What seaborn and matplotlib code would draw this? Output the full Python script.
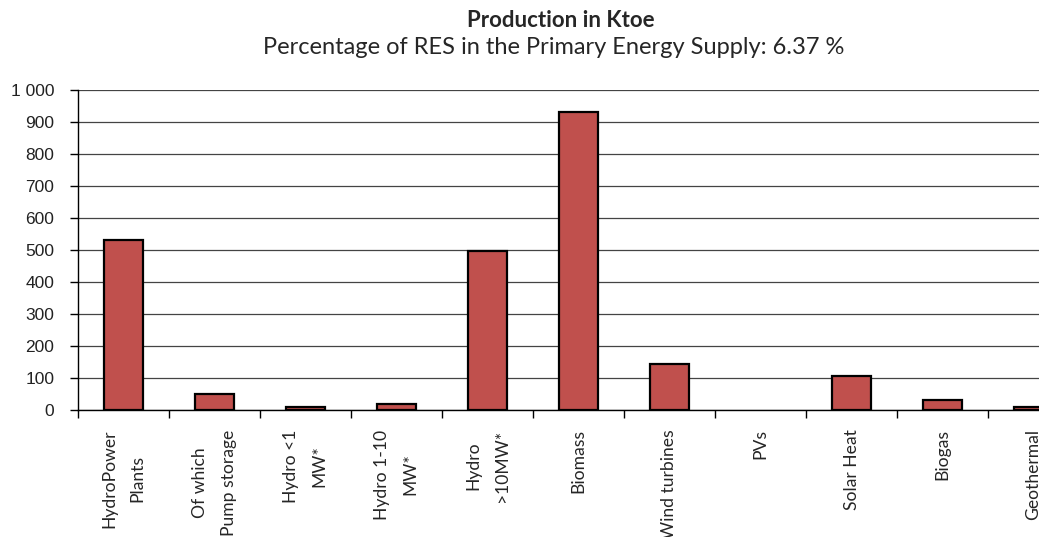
import matplotlib
matplotlib.use("Agg")
import matplotlib.pyplot as plt
import seaborn as sns
import pandas as pd
from matplotlib.ticker import FuncFormatter, FixedLocator

categories = ["HydroPower\nPlants", "Of which\nPump storage", "Hydro <1\nMW*", "Hydro 1-10\nMW*",
              "Hydro\n>10MW*", "Biomass", "Wind turbines", "PVs", "Solar Heat", "Biogas", "Geothermal"]
values = [530, 51, 9, 20, 498, 931, 145, 0, 107, 31, 9]
yticks = [0, 100, 200, 300, 400, 500, 600, 700, 800, 900, 1000]
title = "Production in Ktoe"
subtitle = "Percentage of RES in the Primary Energy Supply: 6.37 %"

sns.set_theme(style="white")
plt.rcParams['font.family'] = ['Lato', 'DejaVu Sans']

df = pd.DataFrame({"cat": categories, "val": values})

fig = plt.figure(figsize=(10.39, 5.37), dpi=100)
ax = fig.add_axes([0.075, 0.2365, 0.925, 0.596])

sns.barplot(data=df, x="cat", y="val", color="#C0504D", edgecolor="black",
            linewidth=1.6, width=0.42, saturation=1, ax=ax, zorder=3)
for p in ax.patches:
    if p.get_height() == 0:
        p.set_linewidth(0)

ax.yaxis.set_major_locator(FixedLocator(yticks))
ax.yaxis.set_major_formatter(FuncFormatter(lambda v, p: f"{int(v):,}".replace(",", " ")))
ax.yaxis.grid(True, color="#444444", linewidth=0.9, zorder=0)
ax.set_axisbelow(True)

for s in ["top", "right"]:
    ax.spines[s].set_visible(False)
for s in ["left", "bottom"]:
    ax.spines[s].set_color("black")
    ax.spines[s].set_linewidth(1.0)

ax.set_xlabel("")
ax.set_ylabel("")

# y tick labels
ax.tick_params(axis="y", which="major", left=True, length=6, width=1, color="black",
               labelsize=12.5, pad=11)
for lab in ax.get_yticklabels():
    lab.set_family(["Liberation Sans", "DejaVu Sans"])
    lab.set_color("#222222")

# x: labels at centers, ticks at boundaries
ax.tick_params(axis="x", which="major", bottom=False, length=0, pad=14)
ax.set_xticks(range(len(categories)))
ax.set_xticklabels(categories, rotation=90, ha="center", va="top",
                   multialignment="center", fontsize=12.6, linespacing=1.95)
ax.set_xticks([i - 0.5 for i in range(len(categories) + 1)], minor=True)
ax.tick_params(axis="x", which="minor", bottom=True, length=6, width=1, color="black")

ax.set_ylim(0, 1000)
ax.set_xlim(-0.5, 10.06)

fig.text(0.54, 0.962, title, ha="center", va="center", fontsize=16, fontweight="bold")
fig.text(0.533, 0.912, subtitle, ha="center", va="center", fontsize=17)

fig.savefig("out.png", dpi=100)
